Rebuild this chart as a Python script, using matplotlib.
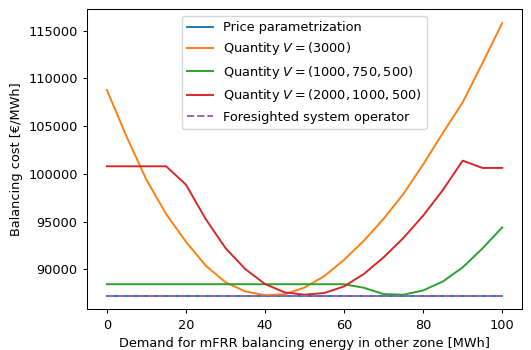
import numpy as np
import matplotlib
matplotlib.use('Agg')
import matplotlib.pyplot as plt

# 需求量 (MWh)
demand = list(range(0, 101, 5))

# 各策略的平衡成本
price_param = [87240] * 21
quantity_3000 = [108800, 103900, 99400, 95800, 92900, 90400, 88650, 87700, 87300, 87400,
                 88100, 89300, 91000, 93000, 95300, 97900, 101000, 104300, 107500, 111600, 115800]
quantity_1000_750_500 = [88450] * 13 + [88080, 87420, 87350, 87800, 88740, 90210, 92200, 94400]
quantity_2000_1000_500 = [100800, 100800, 100800, 100800, 98880, 95280, 92240, 90040, 88470, 87590,
                          87350, 87530, 88220, 89520, 91260, 93290, 95630, 98320, 101390, 100630, 100630]
foresighted = [87240] * 21

# 参考图像是缩小过的，字体和线宽按比例缩小
s = 0.925
plt.rcParams['font.size'] = 10 * s
plt.rcParams['lines.linewidth'] = 1.5 * s
plt.rcParams['axes.linewidth'] = 0.8 * s
plt.rcParams['xtick.major.width'] = 0.8 * s
plt.rcParams['ytick.major.width'] = 0.8 * s
plt.rcParams['xtick.major.size'] = 3.5 * s
plt.rcParams['ytick.major.size'] = 3.5 * s

fig, ax = plt.subplots(figsize=(5.31, 3.5), dpi=100)
ax.plot(demand, price_param, label='Price parametrization')
ax.plot(demand, quantity_3000, label=r'Quantity $V=(3000)$')
ax.plot(demand, quantity_1000_750_500, label=r'Quantity $V=(1000,750,500)$')
ax.plot(demand, quantity_2000_1000_500, label=r'Quantity $V=(2000,1000,500)$')
ax.plot(demand, foresighted, '--', label='Foresighted system operator')

ax.set_xlabel('Demand for mFRR balancing energy in other zone [MWh]')
ax.set_ylabel('Balancing cost [€/MWh]')
ax.legend(loc='upper center')

plt.subplots_adjust(left=0.164, right=0.983, top=0.973, bottom=0.116)
plt.savefig('out.png')
